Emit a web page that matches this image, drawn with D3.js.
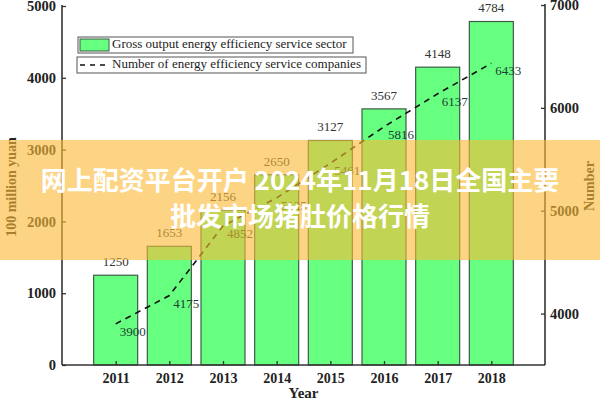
<!DOCTYPE html>
<html><head><meta charset="utf-8">
<script src="https://cdn.jsdelivr.net/npm/d3@7/dist/d3.min.js"></script>
<style>html,body{margin:0;padding:0;background:#fff;}svg{display:block;}</style>
</head><body>
<svg id="c" width="600" height="400"></svg>
<script>
const years = [2011, 2012, 2013, 2014, 2015, 2016, 2017, 2018];
const grossOutput = [1250, 1653, 2156, 2650, 3127, 3567, 4148, 4784];
const companies = [3900, 4175, 4852, 5125, 5461, 5816, 6137, 6433];
const leftTicks = [0, 1000, 2000, 3000, 4000, 5000];
const rightTicks = [4000, 5000, 6000, 7000];
const legendLabels = ["Gross output energy efficiency service sector", "Number of energy efficiency service companies"];
const bannerLines = ["网上配资平台开户 2024年11月18日全国主要", "批发市场猪肚价格行情"];

const svg = d3.select("#c");
const L = 62, R = 545, T = 6, B = 365;
const x = d3.scaleLinear().domain([2010, 2019]).range([L, R]);
const yL = d3.scaleLinear().domain([0, 5000]).range([B, T]);
const yR = d3.scaleLinear().domain([3500, 7000]).range([B, 5]);
const step = x(2012) - x(2011);
const bw = step * 0.82;
const serif = "'Liberation Serif','Times New Roman',serif";
const fmt = d3.format("d");

// bars
svg.append("g").selectAll("rect").data(years).join("rect")
  .attr("x", (d) => x(d) - bw / 2)
  .attr("y", (d, i) => yL(grossOutput[i]))
  .attr("width", bw)
  .attr("height", (d, i) => B - yL(grossOutput[i]))
  .attr("fill", "#66ff80")
  .attr("stroke", "#3d5c48")
  .attr("stroke-width", 1.2);

svg.append("g").selectAll("text").data(years).join("text")
  .attr("x", (d) => x(d))
  .attr("y", (d, i) => yL(grossOutput[i]) - 12)
  .attr("text-anchor", "middle").attr("dominant-baseline", "middle")
  .attr("font-family", serif).attr("font-size", 13).attr("fill", "#333")
  .text((d, i) => grossOutput[i]);

// line
const line = d3.line().x((d, i) => x(years[i])).y((d) => yR(d));
svg.append("path").datum(companies)
  .attr("d", line).attr("fill", "none")
  .attr("stroke", "#111").attr("stroke-width", 1.6)
  .attr("stroke-dasharray", "6,5");

svg.append("g").selectAll("text").data(companies).join("text")
  .attr("x", (d, i) => x(years[i]) + 17)
  .attr("y", (d) => yR(d) + 9)
  .attr("text-anchor", "middle").attr("dominant-baseline", "middle")
  .attr("font-family", serif).attr("font-size", 13).attr("fill", "#1e4032")
  .text((d) => d);

// axes
const axL = d3.axisLeft(yL).tickValues(leftTicks).tickFormat(fmt).tickSizeInner(-4).tickSizeOuter(0).tickPadding(6);
const gL = svg.append("g").attr("transform", `translate(${L},0)`).call(axL);
const axR = d3.axisRight(yR).tickValues(rightTicks).tickFormat(fmt).tickSizeInner(-4).tickSizeOuter(0).tickPadding(5);
const gR = svg.append("g").attr("transform", `translate(${R},0)`).call(axR);
const axB = d3.axisBottom(x).tickValues(years).tickFormat(fmt).tickSizeInner(-4).tickSizeOuter(0).tickPadding(8);
const gB = svg.append("g").attr("transform", `translate(0,${B})`).call(axB);
[gL, gR, gB].forEach((g) => {
  g.select(".domain").attr("stroke", "#333").attr("stroke-width", 1.6);
  g.selectAll(".tick line").attr("stroke", "#333").attr("stroke-width", 1.3);
  g.selectAll(".tick text").attr("font-family", serif).attr("font-size", 14.5)
    .attr("font-weight", "bold").attr("fill", "#222");
});
gB.selectAll(".tick text").attr("font-size", 14);
gL.select(".domain").attr("d", `M0,${B}V${T - 1}`);
gR.select(".domain").attr("d", `M0,${B}V${4}`);
gB.select(".domain").attr("d", `M${L},0H${R}`);

// axis titles
svg.append("text").attr("transform", "translate(13,187) rotate(-90)")
  .attr("text-anchor", "middle").attr("dominant-baseline", "middle")
  .attr("font-family", serif).attr("font-weight", "bold").attr("font-size", 14).attr("fill", "#222")
  .text("100 million yuan");
svg.append("text").attr("transform", "translate(591,186) rotate(-90)")
  .attr("text-anchor", "middle").attr("dominant-baseline", "middle")
  .attr("font-family", serif).attr("font-weight", "bold").attr("font-size", 14).attr("fill", "#222")
  .text("Number");
svg.append("text").attr("x", x(2014.5)).attr("y", 395)
  .attr("text-anchor", "middle").attr("dominant-baseline", "middle")
  .attr("font-family", serif).attr("font-weight", "bold").attr("font-size", 15).attr("fill", "#222")
  .text("Year");

// legend
const lg = svg.append("g");
lg.append("rect").attr("x", 78).attr("y", 37).attr("width", 275).attr("height", 16)
  .attr("fill", "#fff").attr("stroke", "#555").attr("stroke-width", 1);
lg.append("rect").attr("x", 80).attr("y", 39).attr("width", 29).attr("height", 12)
  .attr("fill", "#66ff80").attr("stroke", "#3d5c48").attr("stroke-width", 1);
lg.append("text").attr("x", 112).attr("y", 45.5).attr("dominant-baseline", "middle")
  .attr("font-family", serif).attr("font-size", 13).attr("fill", "#222").text(legendLabels[0]);
lg.append("rect").attr("x", 77).attr("y", 57).attr("width", 289).attr("height", 16)
  .attr("fill", "#fff").attr("stroke", "#555").attr("stroke-width", 1);
lg.append("line").attr("x1", 80).attr("x2", 110).attr("y1", 65).attr("y2", 65)
  .attr("stroke", "#111").attr("stroke-width", 1.4).attr("stroke-dasharray", "5,5");
lg.append("text").attr("x", 112).attr("y", 65.5).attr("dominant-baseline", "middle")
  .attr("font-family", serif).attr("font-size", 13).attr("fill", "#222").text(legendLabels[1]);

// banner overlay
svg.append("rect").attr("x", 0).attr("y", 140).attr("width", 600).attr("height", 120)
  .attr("fill", "rgb(250,185,55)").attr("fill-opacity", 0.62);
svg.append("g").selectAll("text").data(bannerLines).join("text")
  .attr("x", 300).attr("y", (d, i) => 183 + i * 36)
  .attr("text-anchor", "middle").attr("dominant-baseline", "middle")
  .attr("font-family", "'Noto Sans CJK SC','Noto Sans',sans-serif").attr("font-weight", "bold")
  .attr("font-size", 26).attr("fill", "#fff")
  .text((d) => d);
</script>
</body></html>
